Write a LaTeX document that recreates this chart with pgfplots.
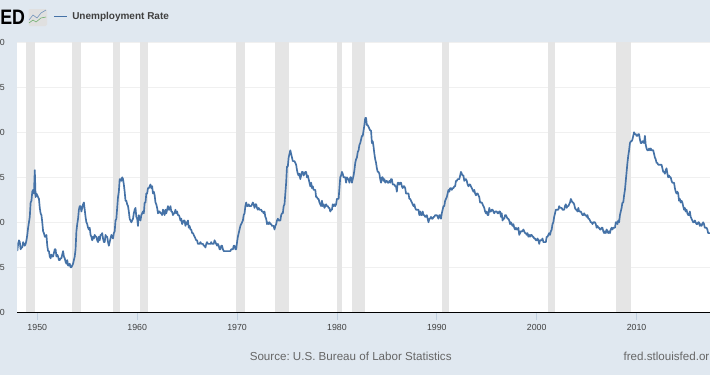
\documentclass[border=0pt]{standalone}
\usepackage{fontspec}
\setmainfont{Liberation Sans}
\usepackage{pgfplots}
\pgfplotsset{compat=1.18}
\definecolor{panel}{HTML}{E0E8F0}
\definecolor{band}{HTML}{E5E5E5}
\definecolor{gridc}{HTML}{F0F0F0}
\definecolor{linec}{HTML}{4572A7}
\definecolor{tickc}{HTML}{C0D0E0}
\newcommand{\rec}[2]{\addplot[fill=band,draw=none,forget plot] coordinates {(#1,0)(#1,15)(#2,15)(#2,0)} --cycle;}
\frenchspacing
\begin{document}
\begin{tikzpicture}
\fill[panel] (0,0) rectangle (532.5pt,-281.25pt);
\begin{axis}[
  at={(12.975pt,-234.225pt)},anchor=south west,
  scale only axis,width=519.525pt,height=202.5pt,
  xmin=1948,xmax=2017.35,ymin=0,ymax=15,
  axis background/.style={fill=white},
  axis y line=left,axis x line=bottom,
  axis line style={-},
  y axis line style={draw=none},
  x axis line style={draw=black,line width=1.2pt},
  xtick={1950,1960,1970,1980,1990,2000,2010},
  xticklabels={1950,1960,1970,1980,1990,2000,2010},
  ytick={0,2.5,5,7.5,10,12.5,15},
  yticklabels={0,5,0,5,0,5,0},
  ymajorgrids,
  y grid style={gridc,line width=1pt},
  tick align=outside,
  x tick style={tickc,line width=0.6pt},
  y tick style={draw=none},
  major tick length=6pt,
  xticklabel style={font=\fontsize{6.6pt}{8pt}\selectfont,text=black!75,yshift=-1pt,inner sep=2pt},
  yticklabel style={font=\fontsize{6.6pt}{8pt}\selectfont,text=black!75,inner sep=0pt,xshift=-3.2pt},
]
\rec{1948.83}{1949.75}
\rec{1953.45}{1954.33}
\rec{1957.62}{1958.29}
\rec{1960.25}{1961.08}
\rec{1969.92}{1970.83}
\rec{1973.83}{1975.17}
\rec{1980.0}{1980.5}
\rec{1981.5}{1982.83}
\rec{1990.5}{1991.17}
\rec{2001.17}{2001.83}
\rec{2007.92}{2009.42}
\addplot[linec,line width=1.25pt,line join=round,no markers] table[row sep=\\,header=false,x expr=1948+\coordindex/12,y index=0]{
3.4\\3.8\\4.0\\3.9\\3.5\\3.6\\3.6\\3.9\\3.8\\3.7\\3.8\\4.0\\
4.3\\4.7\\5.0\\5.3\\6.1\\6.2\\6.7\\6.8\\6.6\\7.9\\6.4\\6.6\\
6.5\\6.4\\6.3\\5.8\\5.5\\5.4\\5.0\\4.5\\4.4\\4.2\\4.2\\4.3\\
3.7\\3.4\\3.4\\3.1\\3.0\\3.2\\3.1\\3.1\\3.3\\3.5\\3.5\\3.1\\
3.2\\3.1\\2.9\\2.9\\3.0\\3.0\\3.2\\3.4\\3.1\\3.0\\2.8\\2.7\\
2.9\\2.6\\2.6\\2.7\\2.5\\2.5\\2.6\\2.7\\2.9\\3.1\\3.5\\4.5\\
4.9\\5.2\\5.7\\5.9\\5.9\\5.6\\5.8\\6.0\\6.1\\5.7\\5.3\\5.0\\
4.9\\4.7\\4.6\\4.7\\4.3\\4.2\\4.0\\4.2\\4.1\\4.3\\4.2\\4.2\\
4.0\\3.9\\4.2\\4.0\\4.3\\4.3\\4.4\\4.1\\3.9\\3.9\\4.3\\4.2\\
4.2\\3.9\\3.7\\3.9\\4.1\\4.3\\4.2\\4.1\\4.4\\4.5\\5.1\\5.2\\
5.8\\6.4\\6.7\\7.4\\7.4\\7.3\\7.5\\7.4\\7.1\\6.7\\6.2\\6.2\\
6.0\\5.9\\5.6\\5.2\\5.1\\5.0\\5.1\\5.2\\5.5\\5.7\\5.8\\5.3\\
5.2\\4.8\\5.4\\5.2\\5.1\\5.4\\5.5\\5.6\\5.5\\6.1\\6.1\\6.6\\
6.6\\6.9\\6.9\\7.0\\7.1\\6.9\\7.0\\6.6\\6.7\\6.5\\6.1\\6.0\\
5.8\\5.5\\5.6\\5.6\\5.5\\5.5\\5.4\\5.7\\5.6\\5.4\\5.7\\5.5\\
5.7\\5.9\\5.7\\5.7\\5.9\\5.6\\5.6\\5.4\\5.5\\5.5\\5.7\\5.5\\
5.6\\5.4\\5.4\\5.3\\5.1\\5.2\\4.9\\5.0\\5.1\\5.1\\4.8\\5.0\\
4.9\\5.1\\4.7\\4.8\\4.6\\4.6\\4.4\\4.4\\4.3\\4.2\\4.1\\4.0\\
4.0\\3.8\\3.8\\3.8\\3.9\\3.8\\3.8\\3.8\\3.7\\3.7\\3.6\\3.8\\
3.9\\3.8\\3.8\\3.8\\3.8\\3.9\\3.8\\3.8\\3.8\\4.0\\3.9\\3.8\\
3.7\\3.8\\3.7\\3.5\\3.5\\3.7\\3.7\\3.5\\3.4\\3.4\\3.4\\3.4\\
3.4\\3.4\\3.4\\3.4\\3.4\\3.5\\3.5\\3.5\\3.7\\3.7\\3.5\\3.5\\
3.9\\4.2\\4.4\\4.6\\4.8\\4.9\\5.0\\5.1\\5.4\\5.5\\5.9\\6.1\\
5.9\\5.9\\6.0\\5.9\\5.9\\5.9\\6.0\\6.1\\6.0\\5.8\\6.0\\6.0\\
5.8\\5.7\\5.8\\5.7\\5.7\\5.7\\5.6\\5.6\\5.5\\5.6\\5.3\\5.2\\
4.9\\5.0\\4.9\\5.0\\4.9\\4.9\\4.8\\4.8\\4.8\\4.6\\4.8\\4.9\\
5.1\\5.2\\5.1\\5.1\\5.1\\5.4\\5.5\\5.5\\5.9\\6.0\\6.6\\7.2\\
8.1\\8.1\\8.6\\8.8\\9.0\\8.8\\8.6\\8.4\\8.4\\8.4\\8.3\\8.2\\
7.9\\7.7\\7.6\\7.7\\7.4\\7.6\\7.8\\7.8\\7.6\\7.7\\7.8\\7.8\\
7.5\\7.6\\7.4\\7.2\\7.0\\7.2\\6.9\\7.0\\6.8\\6.8\\6.8\\6.4\\
6.4\\6.3\\6.3\\6.1\\6.0\\5.9\\6.2\\5.9\\6.0\\5.8\\5.9\\6.0\\
5.9\\5.9\\5.8\\5.8\\5.6\\5.7\\5.7\\6.0\\5.9\\6.0\\5.9\\6.0\\
6.3\\6.3\\6.3\\6.9\\7.5\\7.6\\7.8\\7.7\\7.5\\7.5\\7.5\\7.2\\
7.5\\7.4\\7.4\\7.2\\7.5\\7.5\\7.2\\7.4\\7.6\\7.9\\8.3\\8.5\\
8.6\\8.9\\9.0\\9.3\\9.4\\9.6\\9.8\\9.8\\10.1\\10.4\\10.8\\10.8\\
10.4\\10.4\\10.3\\10.2\\10.1\\10.1\\9.4\\9.5\\9.2\\8.8\\8.5\\8.3\\
8.0\\7.8\\7.8\\7.7\\7.4\\7.2\\7.5\\7.5\\7.3\\7.4\\7.2\\7.3\\
7.3\\7.2\\7.2\\7.3\\7.2\\7.4\\7.4\\7.1\\7.1\\7.1\\7.0\\7.0\\
6.7\\7.2\\7.2\\7.1\\7.2\\7.2\\7.0\\6.9\\7.0\\7.0\\6.9\\6.6\\
6.6\\6.6\\6.6\\6.3\\6.3\\6.2\\6.1\\6.0\\5.9\\6.0\\5.8\\5.7\\
5.7\\5.7\\5.7\\5.4\\5.6\\5.4\\5.4\\5.6\\5.4\\5.4\\5.3\\5.3\\
5.4\\5.2\\5.0\\5.2\\5.2\\5.3\\5.2\\5.2\\5.3\\5.3\\5.4\\5.4\\
5.4\\5.3\\5.2\\5.4\\5.4\\5.2\\5.5\\5.7\\5.9\\5.9\\6.2\\6.3\\
6.4\\6.6\\6.8\\6.7\\6.9\\6.9\\6.8\\6.9\\6.9\\7.0\\7.0\\7.3\\
7.3\\7.4\\7.4\\7.4\\7.6\\7.8\\7.7\\7.6\\7.6\\7.3\\7.4\\7.4\\
7.3\\7.1\\7.0\\7.1\\7.1\\7.0\\6.9\\6.8\\6.7\\6.8\\6.6\\6.5\\
6.6\\6.6\\6.5\\6.4\\6.1\\6.1\\6.1\\6.0\\5.9\\5.8\\5.6\\5.5\\
5.6\\5.4\\5.4\\5.8\\5.6\\5.6\\5.7\\5.7\\5.6\\5.5\\5.6\\5.6\\
5.6\\5.5\\5.5\\5.6\\5.6\\5.3\\5.5\\5.1\\5.2\\5.2\\5.4\\5.4\\
5.3\\5.2\\5.2\\5.1\\4.9\\5.0\\4.9\\4.8\\4.9\\4.7\\4.6\\4.7\\
4.6\\4.6\\4.7\\4.3\\4.4\\4.5\\4.5\\4.5\\4.6\\4.5\\4.4\\4.4\\
4.3\\4.4\\4.2\\4.3\\4.2\\4.3\\4.3\\4.2\\4.2\\4.1\\4.1\\4.0\\
4.0\\4.1\\4.0\\3.8\\4.0\\4.0\\4.0\\4.1\\3.9\\3.9\\3.9\\3.9\\
4.2\\4.2\\4.3\\4.4\\4.3\\4.5\\4.6\\4.9\\5.0\\5.3\\5.5\\5.7\\
5.7\\5.7\\5.7\\5.9\\5.8\\5.8\\5.8\\5.7\\5.7\\5.7\\5.9\\6.0\\
5.8\\5.9\\5.9\\6.0\\6.1\\6.3\\6.2\\6.1\\6.1\\6.0\\5.8\\5.7\\
5.7\\5.6\\5.8\\5.6\\5.6\\5.6\\5.5\\5.4\\5.4\\5.5\\5.4\\5.4\\
5.3\\5.4\\5.2\\5.2\\5.1\\5.0\\5.0\\4.9\\5.0\\5.0\\5.0\\4.9\\
4.7\\4.8\\4.7\\4.7\\4.6\\4.6\\4.7\\4.7\\4.5\\4.4\\4.5\\4.4\\
4.6\\4.5\\4.4\\4.5\\4.4\\4.6\\4.7\\4.6\\4.7\\4.7\\4.7\\5.0\\
5.0\\4.9\\5.1\\5.0\\5.4\\5.6\\5.8\\6.1\\6.1\\6.5\\6.8\\7.3\\
7.8\\8.3\\8.7\\9.0\\9.4\\9.5\\9.5\\9.6\\9.8\\10.0\\9.9\\9.9\\
9.8\\9.8\\9.9\\9.9\\9.6\\9.4\\9.4\\9.5\\9.5\\9.4\\9.8\\9.3\\
9.1\\9.0\\9.0\\9.1\\9.0\\9.1\\9.0\\9.0\\9.0\\8.8\\8.6\\8.5\\
8.3\\8.3\\8.2\\8.2\\8.2\\8.2\\8.2\\8.0\\7.8\\7.8\\7.7\\7.9\\
8.0\\7.7\\7.5\\7.6\\7.5\\7.5\\7.3\\7.2\\7.2\\7.2\\6.9\\6.7\\
6.6\\6.7\\6.6\\6.2\\6.3\\6.1\\6.2\\6.1\\5.9\\5.7\\5.8\\5.6\\
5.7\\5.5\\5.4\\5.4\\5.6\\5.3\\5.2\\5.1\\5.0\\5.0\\5.1\\5.0\\
4.9\\4.9\\5.0\\5.0\\4.8\\4.9\\4.8\\4.9\\5.0\\4.9\\4.7\\4.7\\
4.7\\4.6\\4.4\\4.4\\4.4\\
};
\end{axis}
\begin{scope}[x=0.75pt,y=-0.75pt]
\node[anchor=east,inner sep=0pt,xscale=0.85,font=\fontsize{15.7pt}{16pt}\selectfont\bfseries] at (25.3,17.5) {ED};
\fill[black!12,rounded corners=1pt] (28.5,9) rectangle (47,26);
\draw[green!45!black!60,line width=0.4pt] (29,23)--(33,20)--(36,22)--(41,18)--(46,17);
\draw[linec!80,line width=0.4pt] (29,20)--(33,15)--(37,18)--(41,13)--(46,10);
\draw[linec,line width=1.3pt] (54,16.5)--(67,16.5);
\node[anchor=west,inner sep=0pt,text=black!75,font=\fontsize{7.5pt}{9pt}\selectfont\bfseries] at (72,16.5) {Unemployment Rate};
\node[anchor=west,inner sep=0pt,text=black!60,font=\fontsize{8.7pt}{11pt}\selectfont] at (249.5,356) {Source: U.S. Bureau of Labor Statistics};
\node[anchor=west,inner sep=0pt,text=black!60,font=\fontsize{8.7pt}{11pt}\selectfont] at (623.3,356) {fred.stlouisfed.or};
\end{scope}
\pgfresetboundingbox
\path[use as bounding box] (0,0) rectangle (532.5pt,-281.25pt);
\end{tikzpicture}
\end{document}
